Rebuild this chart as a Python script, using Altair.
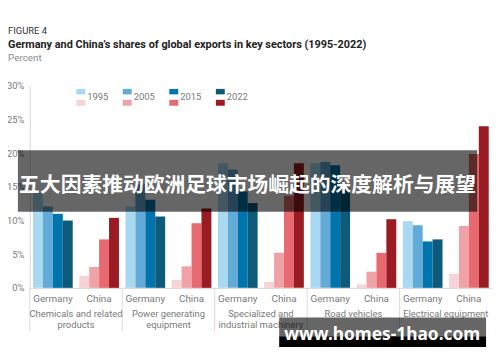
import altair as alt
import pandas as pd

# ---- data ----
sectors = ["Chemicals and related products", "Power generating equipment",
           "Specialized and industrial machinery", "Road vehicles", "Electrical equipment"]
sector_labels = ["Chemicals and related\nproducts", "Power generating\nequipment",
                 "Specialized and\nindustrial machinery", "Road vehicles", "Electrical equipment"]
countries = ["Germany", "China"]
years = ["1995", "2005", "2015", "2022"]

germany_chem = [14.3, 12.1, 11.0, 10.0]
germany_power = [12.1, 15.4, 13.1, 10.6]
germany_spec = [18.5, 17.6, 14.3, 12.6]
germany_road = [18.5, 18.7, 18.2, 14.8]
germany_elec = [9.9, 9.3, 6.9, 7.2]

china_chem = [1.8, 3.1, 7.2, 10.4]
china_power = [1.2, 3.2, 9.6, 11.8]
china_spec = [0.9, 5.2, 13.7, 18.5]
china_road = [0.5, 2.4, 5.2, 10.2]
china_elec = [2.1, 9.2, 19.9, 24.0]

germany_colors = ["#a9d9f0", "#62aad8", "#0075ad", "#0d5a7a"]
china_colors = ["#f7d3d6", "#f0a3a7", "#e8696f", "#9a1c22"]

series = {
    "Germany": [germany_chem, germany_power, germany_spec, germany_road, germany_elec],
    "China": [china_chem, china_power, china_spec, china_road, china_elec],
}

rows = []
for si, s in enumerate(sectors):
    for c in countries:
        for yi, y in enumerate(years):
            rows.append({"sector": s, "country": c, "year": y,
                         "key": f"{s}|{c}", "cy": f"{c} {y}",
                         "value": series[c][si][yi]})
df = pd.DataFrame(rows)
keys = [f"{s}|{c}" for s in sectors for c in countries]
cy_domain = [f"Germany {y}" for y in years] + [f"China {y}" for y in years]
cy_range = germany_colors + china_colors

FONT = "Roboto"
GRAY = "#7a7a7a"
W, H = 467, 204

xscale = alt.Scale(domain=keys, paddingInner=0, paddingOuter=0)

bars = alt.Chart(df).mark_bar().encode(
    x=alt.X("key:N", scale=xscale, title=None,
            axis=alt.Axis(labelExpr="split(datum.label, '|')[1]", labelAngle=0,
                          ticks=False, tickSize=0, labelPadding=6, labelFontSize=10,
                          labelColor=GRAY, labelFont=FONT, domainColor="#d6d6d6")),
    xOffset=alt.XOffset("year:N", scale=alt.Scale(domain=years, paddingInner=0, paddingOuter=0.33)),
    y=alt.Y("value:Q", scale=alt.Scale(domain=[0, 30]), title=None,
            axis=alt.Axis(values=[0, 5, 10, 15, 20, 25, 30], labelExpr="datum.value + '%'",
                          grid=False, ticks=False, tickSize=0, labelPadding=6, labelFontSize=9.5,
                          labelColor=GRAY, labelFont=FONT, domainColor="#d6d6d6")),
    color=alt.Color("cy:N", scale=alt.Scale(domain=cy_domain, range=cy_range), legend=None),
)

sec_df = pd.DataFrame({"sector": sectors, "label": sector_labels,
                       "gkey": [f"{s}|Germany" for s in sectors],
                       "ckey": [f"{s}|China" for s in sectors]})

sep = alt.Chart(sec_df).mark_rule(color="#dcdcdc", strokeWidth=1).encode(
    x=alt.X("gkey:N", scale=xscale, bandPosition=0),
    y=alt.value(H), y2=alt.value(H + 44))

sec_text = alt.Chart(sec_df).mark_text(
    baseline="top", align="center", fontSize=9.5, font=FONT, color=GRAY,
    lineBreak="\n", lineHeight=11.5).encode(
    x=alt.X("ckey:N", scale=xscale, bandPosition=0),
    y=alt.value(H + 21), text="label:N")

layers = [bars, sep, sec_text]

# legend (two rows of swatches)
for i, y in enumerate(years):
    lx = 47 + 47 * i
    layers.append(alt.Chart(pd.DataFrame({"y": [y]})).mark_rect(color=germany_colors[i]).encode(
        x=alt.value(lx), x2=alt.value(lx + 9), y=alt.value(3), y2=alt.value(8.5)))
    layers.append(alt.Chart(pd.DataFrame({"y": [y]})).mark_rect(color=china_colors[i]).encode(
        x=alt.value(lx), x2=alt.value(lx + 9), y=alt.value(14), y2=alt.value(20)))
    layers.append(alt.Chart(pd.DataFrame({"y": [y]})).mark_text(
        align="left", baseline="middle", fontSize=9.5, font=FONT, color=GRAY).encode(
        x=alt.value(lx + 11), y=alt.value(11), text="y:N"))

# titles
def txt(s, x, y, **kw):
    return alt.Chart(pd.DataFrame({"t": [s]})).mark_text(align="left", baseline="middle", **kw).encode(
        x=alt.value(x), y=alt.value(y), text="t:N")

layers.append(txt("FIGURE 4", -22, -55, fontSize=9.5, font=FONT, color="#333333"))
layers.append(txt("Germany and China\u2019s shares of global exports in key sectors (1995-2022)",
                  -22, -41, fontSize=11, font=FONT, fontWeight="bold", color="#222222"))
layers.append(txt("Percent", -22, -28, fontSize=10, font=FONT, color="#8a8a8a"))

# overlay banner
layers.append(alt.Chart(pd.DataFrame({"a": [0]})).mark_rect(color="black", opacity=0.6).encode(
    x=alt.value(-12), x2=alt.value(452), y=alt.value(65), y2=alt.value(127)))
layers.append(alt.Chart(pd.DataFrame({"t": ["五大因素推动欧洲足球市场崛起的深度解析与展望"]})).mark_text(
    align="center", baseline="middle", fontSize=21, font="Noto Sans CJK SC",
    fontWeight="bold", color="white").encode(
    x=alt.value(220), y=alt.value(101), text="t:N"))

# watermark
layers.append(alt.Chart(pd.DataFrame({"a": [0]})).mark_rect(color="black", opacity=0.6).encode(
    x=alt.value(252), x2=alt.value(461), y=alt.value(234), y2=alt.value(253)))
layers.append(alt.Chart(pd.DataFrame({"a": [0]})).mark_rect(color="black").encode(
    x=alt.value(252), x2=alt.value(461), y=alt.value(253), y2=alt.value(268)))
layers.append(alt.Chart(pd.DataFrame({"t": ["www.homes-1hao.com"]})).mark_text(
    align="center", baseline="middle", fontSize=17.5, font="Noto Sans",
    fontWeight="bold", color="white").encode(
    x=alt.value(356), y=alt.value(252), text="t:N"))

chart = alt.layer(*layers).properties(
    width=W, height=H,
    autosize=alt.AutoSizeParams(type="none"),
    padding={"left": 22, "top": 77, "right": 0, "bottom": 58},
    background="white",
).configure_view(stroke=None)

chart.save("out.html", embed_options={"renderer": "svg", "actions": False})
